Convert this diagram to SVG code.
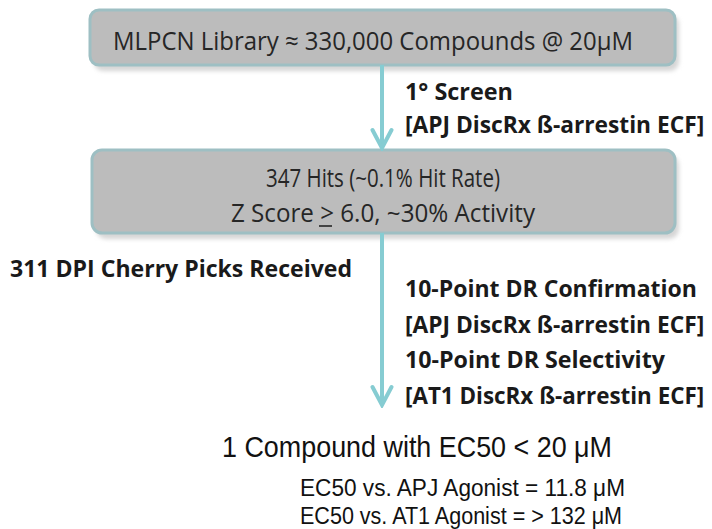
<svg xmlns="http://www.w3.org/2000/svg" width="712" height="529" viewBox="0 0 712 529">
  <style>
    .box { fill: #bcbcbc; stroke: #9ebfc3; stroke-width: 3; }
    .shadow { fill: #d6d6d6; }
    .boxtxt { font-family: "Open Sans", "Noto Sans", sans-serif; font-size: 25px; fill: #262626; }
    .lbl { font-family: "Open Sans", "Noto Sans", sans-serif; font-size: 24px; font-weight: bold; fill: #1a1a1a; }
    .res { font-family: "Liberation Sans", Arial, sans-serif; fill: #111; }
    .conn { stroke: #86ccd2; stroke-width: 4; fill: none; }
    .ul { stroke: #262626; stroke-width: 1.6; }
  </style>
  <defs>
    <marker id="chev" markerUnits="userSpaceOnUse" viewBox="0 0 24 24" refX="21" refY="12" markerWidth="24" markerHeight="24" orient="auto">
      <path d="M3,2.5 L21,12 L3,21.5" fill="none" stroke="#86ccd2" stroke-width="4" stroke-linejoin="miter" stroke-linecap="round"/>
    </marker>
    <filter id="blur" x="-5%" y="-20%" width="110%" height="140%">
      <feGaussianBlur stdDeviation="2"/>
    </filter>
  </defs>

  <g id="node-library">
    <rect class="shadow" x="94" y="15" width="585" height="56" rx="9" filter="url(#blur)"/>
    <rect class="box" x="90" y="10" width="585" height="55" rx="9"/>
    <text class="boxtxt" x="113" y="50" textLength="520" lengthAdjust="spacingAndGlyphs">MLPCN Library ≈ 330,000 Compounds @ 20μM</text>
  </g>

  <g id="node-hits">
    <rect class="shadow" x="96" y="155" width="583" height="84" rx="10" filter="url(#blur)"/>
    <rect class="box" x="92" y="150" width="583" height="83" rx="10"/>
    <text class="boxtxt" x="383" y="187" text-anchor="middle" textLength="234" lengthAdjust="spacingAndGlyphs">347 Hits (~0.1% Hit Rate)</text>
    <text class="boxtxt" x="383" y="222" text-anchor="middle" textLength="304" lengthAdjust="spacingAndGlyphs">Z Score &gt; 6.0, ~30% Activity</text>
    <line class="ul" x1="319" y1="226" x2="332" y2="226"/>
  </g>

  <g id="connectors">
    <line class="conn" x1="382" y1="65" x2="382" y2="148" marker-end="url(#chev)"/>
    <line class="conn" x1="382" y1="233" x2="382" y2="405" marker-end="url(#chev)"/>
  </g>

  <g id="label-screen">
    <text class="lbl" transform="translate(405,100) scale(0.8,1)" textLength="135" lengthAdjust="spacingAndGlyphs">1° Screen</text>
    <text class="lbl" transform="translate(405,133) scale(0.8,1)" textLength="374" lengthAdjust="spacingAndGlyphs">[APJ DiscRx ß-arrestin ECF]</text>
  </g>

  <g id="label-cherry">
    <text class="lbl" x="10" y="277" textLength="342" lengthAdjust="spacingAndGlyphs">311 DPI Cherry Picks Received</text>
  </g>

  <g id="label-dr">
    <text class="lbl" transform="translate(405,297) scale(0.8,1)" textLength="365" lengthAdjust="spacingAndGlyphs">10-Point DR Confirmation</text>
    <text class="lbl" transform="translate(405,333) scale(0.8,1)" textLength="374" lengthAdjust="spacingAndGlyphs">[APJ DiscRx ß-arrestin ECF]</text>
    <text class="lbl" transform="translate(405,368) scale(0.8,1)" textLength="325" lengthAdjust="spacingAndGlyphs">10-Point DR Selectivity</text>
    <text class="lbl" transform="translate(405,404) scale(0.8,1)" textLength="374" lengthAdjust="spacingAndGlyphs">[AT1 DiscRx ß-arrestin ECF]</text>
  </g>

  <g id="node-result">
    <text class="res" x="222" y="457" font-size="29" textLength="390" lengthAdjust="spacingAndGlyphs">1 Compound with EC50 &lt; 20 μM</text>
    <text class="res" x="300" y="496" font-size="23" textLength="325" lengthAdjust="spacingAndGlyphs">EC50 vs. APJ Agonist = 11.8 μM</text>
    <text class="res" x="300" y="524" font-size="23" textLength="322" lengthAdjust="spacingAndGlyphs">EC50 vs. AT1 Agonist = &gt; 132 μM</text>
  </g>
</svg>
